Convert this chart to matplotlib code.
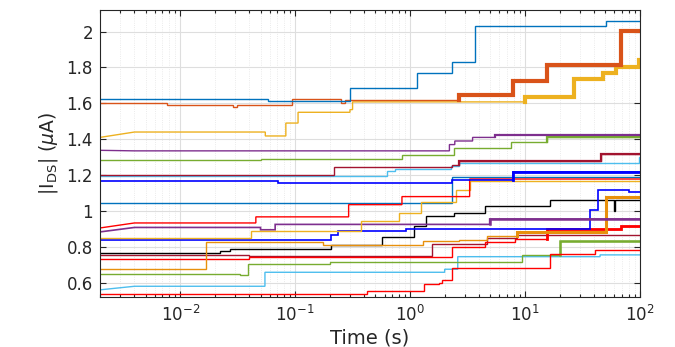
import matplotlib
matplotlib.use("Agg")
import matplotlib.pyplot as plt
from matplotlib.ticker import LogLocator, FixedLocator, FormatStrFormatter, NullFormatter

plt.rcParams['font.family'] = ['DejaVu Sans']
plt.rcParams['mathtext.fontset'] = 'dejavusans'

T_END = 100.0

# ---- data: change-point times (s) and |I_DS| values (uA) ----
blue_top_t = [0.002, 0.004, 0.058, 0.30, 1.15, 2.34, 3.64, 51]
blue_top_v = [1.624, 1.624, 1.615, 1.685, 1.77, 1.83, 2.033, 2.057]

orange_top_t = [0.002, 0.004, 0.0077, 0.029, 0.031, 0.094, 0.25, 0.27, 2.69, 7.85, 15.6, 68]
orange_top_v = [1.60, 1.60, 1.592, 1.577, 1.592, 1.622, 1.60, 1.617, 1.648, 1.722, 1.815, 2.005]

yellow_top_t = [0.002, 0.004, 0.055, 0.083, 0.106, 0.30, 0.316, 10, 26.9, 47.4, 61.5, 98]
yellow_top_v = [1.41, 1.44, 1.418, 1.49, 1.55, 1.565, 1.608, 1.635, 1.735, 1.77, 1.80, 1.84]

purple_top_t = [0.002, 0.004, 2.2, 2.45, 3.5, 5.46]
purple_top_v = [1.338, 1.335, 1.37, 1.39, 1.41, 1.422]

green_top_t = [0.002, 0.004, 0.05, 0.85, 2.43, 7.6, 15.6]
green_top_v = [1.283, 1.283, 1.29, 1.31, 1.35, 1.385, 1.41]

darkred_top_t = [0.002, 0.004, 0.216, 2.3, 2.69, 45.5]
darkred_top_v = [1.203, 1.203, 1.243, 1.255, 1.28, 1.315]

lightblue_top_t = [0.002, 0.004, 0.63, 0.74, 2.29, 2.69, 98]
lightblue_top_v = [1.195, 1.195, 1.22, 1.235, 1.25, 1.265, 1.30]

brightblue_top_t = [0.002, 0.004, 0.071, 2.3, 7.85]
brightblue_top_v = [1.167, 1.167, 1.153, 1.175, 1.215]

steelblue_t = [0.002, 0.004, 2.34]
steelblue_v = [1.044, 1.044, 1.19]

red_upper_t = [0.002, 0.004, 0.0455, 0.292, 0.85, 3.3]
red_upper_v = [0.905, 0.933, 0.967, 1.035, 1.08, 1.178]

purple_low_t = [0.002, 0.004, 0.05, 0.067, 4.93]
purple_low_v = [0.883, 0.908, 0.895, 0.925, 0.955]

yellow_low_t = [0.002, 0.004, 0.041, 0.372, 0.80, 1.25, 2.53, 3.3]
yellow_low_v = [0.847, 0.847, 0.887, 0.945, 0.99, 1.05, 1.117, 1.167]

brightblue_low_t = [0.002, 0.004, 0.207, 0.238, 0.92, 37, 43, 80]
brightblue_low_v = [0.838, 0.838, 0.867, 0.887, 0.902, 1.005, 1.117, 1.107]

orange_low_t = [0.002, 0.004, 0.0166, 0.176, 1.3, 2.69, 4.64, 8.5, 51]
orange_low_v = [0.675, 0.675, 0.825, 0.812, 0.83, 0.84, 0.86, 0.885, 1.075]

black_t = [0.002, 0.004, 0.022, 0.027, 0.207, 0.57, 1.08, 1.38, 2.43, 4.46, 16.6, 59, 61]
black_v = [0.767, 0.767, 0.775, 0.787, 0.81, 0.855, 0.915, 0.97, 0.99, 1.03, 1.06, 1.0, 1.063]

green_low_t = [0.002, 0.004, 0.033, 0.0387, 0.2, 9.4, 20.3]
green_low_v = [0.65, 0.65, 0.642, 0.705, 0.713, 0.755, 0.835]

lightblue_low_t = [0.002, 0.004, 0.0546, 2.0, 2.6, 45]
lightblue_low_v = [0.56, 0.58, 0.658, 0.675, 0.745, 0.755]

red_bottom_t = [0.002, 0.004, 0.42, 1.33, 1.8, 1.91, 2.34, 16.6, 41]
red_bottom_v = [0.535, 0.535, 0.555, 0.59, 0.60, 0.615, 0.683, 0.76, 0.78]

darkred_low_t = [0.002, 0.004, 0.04, 1.56, 4.64, 8.5]
darkred_low_v = [0.755, 0.755, 0.75, 0.817, 0.85, 0.867]

red_low_t = [0.002, 0.004, 0.04, 2.34, 4.46, 8.2, 15.6, 68]
red_low_v = [0.733, 0.733, 0.745, 0.80, 0.828, 0.845, 0.90, 0.915]

# (times, values, colour, base width, noisy-from time, noisy width)
series = [
    (steelblue_t, steelblue_v, '#0072BD', 1.0, None, 0),
    (lightblue_low_t, lightblue_low_v, '#4DBEEE', 1.0, None, 0),
    (green_low_t, green_low_v, '#77AC30', 1.0, 20.3, 1.8),
    (red_bottom_t, red_bottom_v, '#FF0000', 1.0, None, 0),
    (darkred_low_t, darkred_low_v, '#A2142F', 1.0, None, 0),
    (red_low_t, red_low_v, '#FF0000', 1.0, 15.6, 2.0),
    (black_t, black_v, '#000000', 1.0, None, 0),
    (orange_low_t, orange_low_v, '#E8900C', 1.0, 8.5, 2.2),
    (brightblue_low_t, brightblue_low_v, '#0000FF', 1.2, None, 0),
    (purple_low_t, purple_low_v, '#7E2F8E', 1.2, 4.93, 1.8),
    (yellow_low_t, yellow_low_v, '#EDB120', 1.0, None, 0),
    (red_upper_t, red_upper_v, '#FF0000', 1.0, None, 0),
    (brightblue_top_t, brightblue_top_v, '#0000FF', 1.2, 7.85, 2.0),
    (lightblue_top_t, lightblue_top_v, '#4DBEEE', 1.0, None, 0),
    (darkred_top_t, darkred_top_v, '#A2142F', 1.0, 2.69, 1.6),
    (green_top_t, green_top_v, '#77AC30', 1.0, 15.6, 1.6),
    (purple_top_t, purple_top_v, '#7E2F8E', 1.0, 5.46, 1.6),
    (yellow_top_t, yellow_top_v, '#EDB120', 1.0, 10, 3.0),
    (orange_top_t, orange_top_v, '#D95319', 1.0, 2.69, 3.0),
    (blue_top_t, blue_top_v, '#0072BD', 1.0, None, 0),
]


def step_path(t, v):
    xs = [t[0], t[1]]
    ys = [v[0], v[1]]
    for i in range(2, len(t)):
        xs += [t[i], t[i]]
        ys += [v[i - 1], v[i]]
    xs.append(T_END)
    ys.append(v[-1])
    return xs, ys


fig = plt.figure(figsize=(6.75, 3.47), dpi=100)
ax = fig.add_axes([0.148, 0.144, 0.800, 0.827])

for t, v, c, lw, thick, tlw in series:
    xs, ys = step_path(t, v)
    ax.plot(xs, ys, color=c, lw=lw, solid_joinstyle='miter')
    if thick is not None:
        xt = [x for x in xs if x >= thick]
        yt = [y for x, y in zip(xs, ys) if x >= thick]
        ax.plot(xt, yt, color=c, lw=tlw, solid_joinstyle='miter')

ax.set_xscale('log')
ax.set_xlim(0.002, 100)
ax.set_ylim(0.52, 2.12)

ax.yaxis.set_major_locator(FixedLocator([0.6, 0.8, 1.0, 1.2, 1.4, 1.6, 1.8, 2.0]))
ax.yaxis.set_major_formatter(FormatStrFormatter('%g'))
ax.xaxis.set_major_locator(LogLocator(base=10, numticks=10))
ax.xaxis.set_minor_locator(LogLocator(base=10, subs=range(2, 10), numticks=20))
ax.xaxis.set_minor_formatter(NullFormatter())

ax.grid(True, which='major', color='#DEDEDE', lw=0.8)
ax.grid(True, which='minor', axis='x', color='#E4E4E4', lw=0.6, ls=':')
ax.set_axisbelow(True)

ax.tick_params(which='both', direction='in', top=True, right=True,
               colors='#262626', labelcolor='#262626', width=0.8)
ax.tick_params(which='major', length=4, labelsize=12)
ax.tick_params(axis='y', pad=5)
ax.tick_params(axis='x', pad=6)
ax.tick_params(which='minor', length=2.5)
for s in ax.spines.values():
    s.set_color('#262626')
    s.set_linewidth(0.8)

ax.set_xlabel('Time (s)', fontsize=14, color='#262626', labelpad=2)
ax.set_ylabel(r'|I$_{\mathrm{DS}}$| ($\mu$A)', fontsize=13.5, color='#262626', labelpad=5)

fig.savefig('out.png', dpi=100, facecolor='white')
